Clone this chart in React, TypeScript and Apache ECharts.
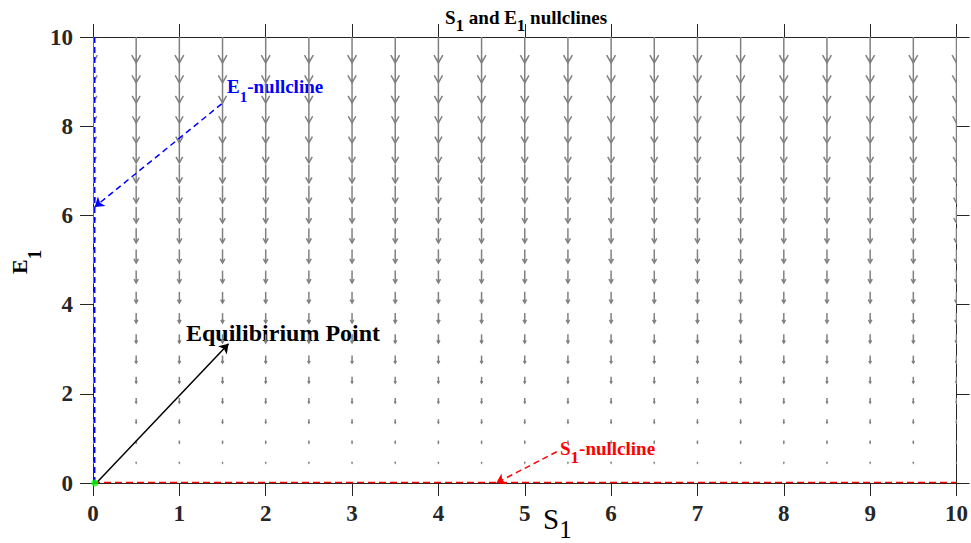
import React, { useEffect, useRef } from "react";
import * as echarts from "echarts";

// Quiver grid (S1 columns, E1 rows) and the downward rate of each row
const S_GRID = [0, 0.5, 1, 1.5, 2, 2.5, 3, 3.5, 4, 4.5, 5, 5.5, 6, 6.5, 7, 7.5, 8, 8.5, 9, 9.5, 10];
const E_GRID = [0, 0.476, 0.952, 1.429, 1.905, 2.381, 2.857, 3.333, 3.81, 4.286, 4.762, 5.238, 5.714, 6.19, 6.667, 7.143, 7.619, 8.095, 8.571, 9.048, 9.524, 10];
const E_RATE = [0, -0.028, -0.055, -0.083, -0.11, -0.138, -0.166, -0.193, -0.221, -0.249, -0.276, -0.304, -0.331, -0.359, -0.387, -0.414, -0.442, -0.47, -0.497, -0.525, -0.552, -0.58];
const S_RATE = 0;

// Nullclines
const S_NULL = [[0, 0.01], [10, 0.01]];
const E_NULL = [[0.02, 0], [0.02, 10]];
const EQ_POINT = [[0.02, 0]];

// Annotation arrows [from, to]
const E_NULL_ARROW = [[1.49, 8.5], [0.02, 6.19]];
const S_NULL_ARROW = [[5.37, 0.7], [4.67, 0.0]];
const EQ_ARROW = [[0.05, 0.02], [1.57, 3.12]];

const FONT = "'Liberation Serif', 'Times New Roman', serif";

let measureCtx: CanvasRenderingContext2D | null = null;
function measure(text: string, size: number, weight: string) {
  if (!measureCtx) measureCtx = document.createElement("canvas").getContext("2d");
  if (!measureCtx) return text.length * size * 0.5;
  measureCtx.font = `${weight} ${size}px ${FONT}`;
  return measureCtx.measureText(text).width;
}

type Part = { t: string; sub?: boolean };
function subText(
  parts: Part[],
  x0: number,
  baseline: number,
  o: { size: number; subSize: number; subDy: number; color: string; weight: string },
) {
  let x = x0;
  const out: any[] = [];
  for (const p of parts) {
    const size = p.sub ? o.subSize : o.size;
    const b = p.sub ? baseline + o.subDy : baseline;
    out.push({
      type: "text",
      x,
      y: b - 0.34 * size,
      style: {
        text: p.t,
        fontFamily: FONT,
        fontSize: size,
        fontWeight: o.weight,
        fill: o.color,
        align: "left",
        verticalAlign: "middle",
      },
    });
    x += measure(p.t, size, o.weight);
  }
  return out;
}

export default function App() {
  const ref = useRef<HTMLDivElement>(null);

  useEffect(() => {
    if (!ref.current) return;
    const chart = echarts.init(ref.current, undefined, { renderer: "svg" });

    const quiver: number[][] = [];
    for (const s of S_GRID) {
      for (let i = 0; i < E_GRID.length; i++) {
        quiver.push([s, E_GRID[i], S_RATE, E_RATE[i]]);
      }
    }

    const gray = "#808080";
    const axisColor = "#262626";

    const renderItem = (params: any, api: any) => {
      const x = api.value(0), y = api.value(1), u = api.value(2), v = api.value(3);
      const p0 = api.coord([x, y]);
      const p1 = api.coord([x + u, y + v]);
      const dx = p1[0] - p0[0], dy = p1[1] - p0[1];
      const L = Math.hypot(dx, dy);
      if (L < 0.3) return null;
      const ux = dx / L, uy = dy / L;
      const back = 0.3 * L, half = 0.17 * L;
      const bx = p1[0] - ux * back, by = p1[1] - uy * back;
      const hl = [bx - uy * half, by + ux * half];
      const hr = [bx + uy * half, by - ux * half];
      return {
        type: "group",
        children: [
          { type: "line", shape: { x1: p0[0], y1: p0[1], x2: p1[0], y2: p1[1] }, style: { stroke: gray, lineWidth: 1.5 } },
          { type: "polyline", shape: { points: [hl, p1, hr] }, style: { stroke: gray, lineWidth: 1.5, fill: null } },
        ],
      };
    };

    const axisCommon = {
      type: "value",
      min: 0,
      max: 10,
      splitLine: { show: false },
      axisLine: { show: true, onZero: false, lineStyle: { color: axisColor, width: 1 } },
      axisTick: { show: true, inside: false, length: 13, lineStyle: { color: axisColor, width: 1 } },
    };

    const label = {
      color: axisColor,
      fontFamily: FONT,
      fontWeight: "bold",
      fontSize: 23,
    };

    const arrowLine = (pts: number[][], color: string, type: any) => ({
      symbol: ["none", "arrow"],
      symbolSize: 9,
      silent: true,
      animation: false,
      label: { show: false },
      lineStyle: { color, type, width: 1.5 },
      data: [[{ coord: pts[0] }, { coord: pts[1] }]],
    });

    const graphics: any[] = [
      ...subText([{ t: "S" }, { t: "1", sub: true }, { t: " and E" }, { t: "1", sub: true }, { t: " nullclines" }], 445, 23.5, {
        size: 19, subSize: 17, subDy: 8, color: "#000", weight: "bold",
      }),
      ...subText([{ t: "E" }, { t: "1", sub: true }, { t: "-nullcline" }], 227, 93, {
        size: 19, subSize: 15, subDy: 9, color: "#0000ff", weight: "bold",
      }),
      ...subText([{ t: "Equilibirium Point" }], 186, 341, {
        size: 24, subSize: 20, subDy: 0, color: "#000", weight: "bold",
      }),
      ...subText([{ t: "S" }, { t: "1", sub: true }, { t: "-nullcline" }], 560, 455, {
        size: 19, subSize: 17, subDy: 8, color: "#ff0000", weight: "bold",
      }),
      ...subText([{ t: "S" }, { t: "1", sub: true }], 543, 529, {
        size: 29, subSize: 25, subDy: 9, color: "#000", weight: "normal",
      }),
      {
        type: "group",
        x: 27,
        y: 274,
        rotation: Math.PI / 2,
        children: subText([{ t: "E" }, { t: "1", sub: true }], 0, 0, {
          size: 22, subSize: 19, subDy: 14, color: "#000", weight: "bold",
        }),
      },
    ];

    const option: any = {
      animation: false,
      backgroundColor: "#ffffff",
      grid: { left: 93, right: 12, top: 37, bottom: 60, containLabel: false },
      xAxis: [
        { ...axisCommon, position: "bottom", interval: 1, axisLabel: { ...label, margin: 19 } },
        { ...axisCommon, position: "top", interval: 1, axisLabel: { show: false } },
      ],
      yAxis: [
        { ...axisCommon, position: "left", interval: 2, axisLabel: { ...label, margin: 20 } },
        { ...axisCommon, position: "right", interval: 2, axisLabel: { show: false } },
      ],
      series: [
        {
          type: "custom",
          renderItem,
          clip: true,
          silent: true,
          dimensions: ["s", "e", "u", "v"],
          encode: { x: 0, y: 1 },
          data: quiver,
          z: 2,
        },
        {
          type: "line",
          data: S_NULL,
          symbol: "none",
          lineStyle: { color: "#ff0000", width: 1.5, type: [7, 4] },
          z: 3,
          markLine: arrowLine(S_NULL_ARROW, "#ff0000", [6, 4]),
        },
        {
          type: "line",
          data: E_NULL,
          symbol: "none",
          lineStyle: { color: "#0000ff", width: 1.5, type: [6, 4] },
          z: 3,
          markLine: arrowLine(E_NULL_ARROW, "#0000ff", [6, 4]),
        },
        {
          type: "scatter",
          data: EQ_POINT,
          symbol: "circle",
          symbolSize: 7,
          itemStyle: { color: "#00ff00" },
          z: 5,
          markLine: arrowLine(EQ_ARROW, "#000000", "solid"),
        },
      ],
      graphic: graphics,
    };

    chart.setOption(option);
    return () => chart.dispose();
  }, []);

  return (
    <div
      ref={ref}
      style={{ position: "absolute", left: 0, top: 0, width: 971, height: 543, background: "#fff" }}
    />
  );
}
